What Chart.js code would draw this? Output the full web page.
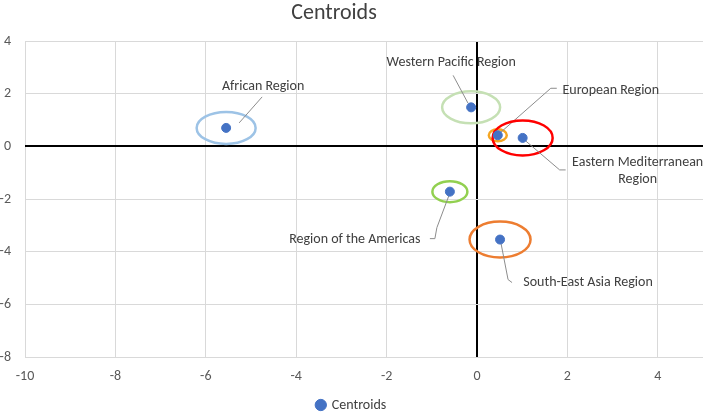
<!DOCTYPE html>
<html>
<head>
<meta charset="utf-8">
<script src="https://cdn.jsdelivr.net/npm/chart.js@4.4.0/dist/chart.umd.min.js"></script>
<style>
  html, body { margin: 0; padding: 0; background: #fff; }
  #wrap { width: 709px; height: 412px; position: relative; }
</style>
</head>
<body>
<div id="wrap"><canvas id="chart1"></canvas></div>
<script>
// centroid data
let regionNames = ['African Region', 'Western Pacific Region', 'European Region',
  'Eastern Mediterranean Region', 'Region of the Americas', 'South-East Asia Region'];
let xValues = [-5.55, -0.13, 0.46, 1.01, -0.6, 0.51];
let yValues = [0.7, 1.48, 0.42, 0.32, -1.72, -3.54];

let xTicks = [-10, -8, -6, -4, -2, 0, 2, 4];
let yTicks = [-8, -6, -4, -2, 0, 2, 4];

// styling for the ring drawn round each centroid
let ringColors = ['#9DC3E6', '#C5E0B4', '#F5A623', '#FF0000', '#92D050', '#ED7D31'];
let ringSizes = [[29.5, 16], [29, 16], [9, 6], [30, 17.5], [17.5, 10.5], [30.5, 18]];

// label placement relative to the point (px): text centre, leader path
let labelStyle = [
  { text: [37, -41], lines: [[13, -5], [36, -31]] },
  { text: [-20, -45], lines: [[-3, -4], [-18, -32]] },
  { text: [113, -45], lines: [[3, -3], [53, -47], [59, -47]] },
  { text: [115, 25], lines: [[3, 3], [37, 32], [43, 32]], wrap: ['Eastern Mediterranean', 'Region'] },
  { text: [-95, 48], lines: [[-1, 4], [-13, 36], [-15, 47], [-20, 47]] },
  { text: [88, 43], lines: [[1, 4], [8, 40], [12, 43]] },
];

let fontFamily = 'Carlito, Lato, "Liberation Sans", sans-serif';
let labelFont = '14px ' + fontFamily;

let centroidPoints = xValues.map(function(x, i) { return { x: x, y: yValues[i] }; });

const ringsAndLabels = {
  id: 'ringsAndLabels',
  beforeDatasetsDraw(chart) {
    const ctx = chart.ctx;
    const xs = chart.scales.x;
    const ys = chart.scales.y;
    ctx.save();
    for (var i = 0; i < centroidPoints.length; i++) {
      var px = xs.getPixelForValue(centroidPoints[i].x);
      var py = ys.getPixelForValue(centroidPoints[i].y);
      // ring
      ctx.beginPath();
      ctx.ellipse(px, py, ringSizes[i][0], ringSizes[i][1], 0, 0, Math.PI * 2);
      ctx.strokeStyle = ringColors[i];
      ctx.lineWidth = 2.5;
      ctx.stroke();
      // leader line
      var st = labelStyle[i];
      ctx.beginPath();
      ctx.moveTo(px + st.lines[0][0], py + st.lines[0][1]);
      for (var j = 1; j < st.lines.length; j++) {
        ctx.lineTo(px + st.lines[j][0], py + st.lines[j][1]);
      }
      ctx.strokeStyle = '#8C8C8C';
      ctx.lineWidth = 1;
      ctx.stroke();
    }
    ctx.restore();
  },
  afterDraw(chart) {
    const ctx = chart.ctx;
    const xs = chart.scales.x;
    const ys = chart.scales.y;
    ctx.save();
    ctx.font = labelFont;
    ctx.fillStyle = '#404040';
    ctx.textAlign = 'center';
    ctx.textBaseline = 'middle';
    for (var i = 0; i < centroidPoints.length; i++) {
      var px = xs.getPixelForValue(centroidPoints[i].x);
      var py = ys.getPixelForValue(centroidPoints[i].y);
      var st = labelStyle[i];
      var lines = st.wrap ? st.wrap : [regionNames[i]];
      for (var k = 0; k < lines.length; k++) {
        ctx.fillText(lines[k], px + st.text[0], py + st.text[1] + k * 17);
      }
    }
    // chart title
    ctx.font = '22px ' + fontFamily;
    ctx.fillStyle = '#404040';
    ctx.fillText('Centroids', 334, 13);
    ctx.restore();
  }
};

function gridColor(c) {
  return c.tick && c.tick.value === 0 ? '#000000' : '#D9D9D9';
}
function gridWidth(c) {
  return c.tick && c.tick.value === 0 ? 2 : 1;
}

var ctx = document.getElementById('chart1').getContext('2d');
var myChart = new Chart(ctx, {
  type: 'scatter',
  data: {
    datasets: [{
      label: 'Centroids',
      data: centroidPoints,
      backgroundColor: '#4472C4',
      borderColor: '#4472C4',
      pointRadius: 4.5,
      pointHoverRadius: 4.5,
    }]
  },
  options: {
    responsive: true,
    maintainAspectRatio: false,
    animation: false,
    layout: { padding: { top: 41, right: 6, left: 0, bottom: -10 } },
    plugins: {
      title: { display: false },
      tooltip: { enabled: false },
      legend: {
        position: 'bottom',
        labels: {
          usePointStyle: true,
          pointStyle: 'circle',
          boxWidth: 8,
          boxHeight: 8,
          padding: 0,
          color: '#404040',
          font: { family: fontFamily, size: 14 }
        }
      }
    },
    scales: {
      x: {
        type: 'linear',
        min: xTicks[0],
        max: 5,
        afterBuildTicks: function(scale) {
          scale.ticks = xTicks.map(function(v) { return { value: v }; });
        },
        afterFit: function(scale) { scale.height = 41; },
        grid: { color: gridColor, lineWidth: gridWidth, drawTicks: false },
        border: { display: false },
        ticks: {
          padding: 11,
          color: '#595959',
          font: { family: fontFamily, size: 14 }
        }
      },
      y: {
        type: 'linear',
        min: yTicks[0],
        max: yTicks[yTicks.length - 1],
        afterBuildTicks: function(scale) {
          scale.ticks = yTicks.map(function(v) { return { value: v }; });
        },
        afterFit: function(scale) { scale.width = 25; },
        grid: { color: gridColor, lineWidth: gridWidth, drawTicks: false },
        border: { display: false },
        ticks: {
          padding: 14,
          color: '#595959',
          font: { family: fontFamily, size: 14 }
        }
      }
    }
  },
  plugins: [ringsAndLabels]
});
</script>
</body>
</html>
